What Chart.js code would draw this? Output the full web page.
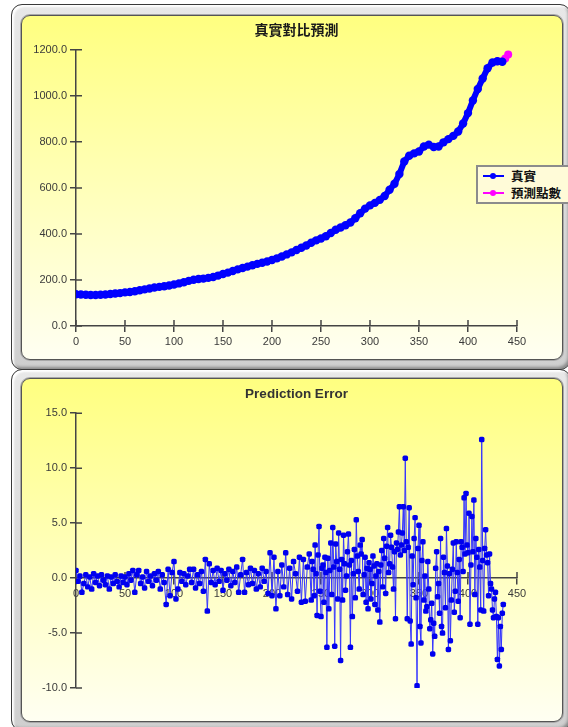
<!DOCTYPE html>
<html>
<head>
<meta charset="utf-8">
<script src="https://cdn.jsdelivr.net/npm/chart.js@4"></script>
<style>
  html, body { margin: 0; padding: 0; background: #fff; }
  body { width: 568px; height: 727px; position: relative; overflow: hidden; }
  .frame {
    position: absolute; box-sizing: border-box;
    border: 1px solid #3a3a3a; border-radius: 11px;
    background: linear-gradient(#e8e8e8, #cfcfcf);
    box-shadow: inset 2px 2px 2px #ffffff, inset -2px -2px 3px #8a8a8a;
  }
  .panel {
    position: absolute; box-sizing: border-box; overflow: hidden;
    border: 1px solid #555; border-radius: 9px;
    background: linear-gradient(#ffff80, #fffff2);
    box-shadow: 0 0 0 1px #a8a8a8;
  }
  .chartbox { position: absolute; left: 0; }
  #legend {
    position: absolute; left: 476px; top: 165px; width: 100px; height: 39px;
    box-sizing: border-box; border: 2px solid #8c8c8c; background: #fffbd8;
    font: bold 12.5px "Noto Sans CJK TC", sans-serif; color: #111;
  }
  #legend div { position: relative; height: 17px; line-height: 17px; padding-left: 33px; }
  #legend span.ln { position: absolute; left: 5px; top: 8px; width: 21px; height: 2px; }
  #legend span.dot { position: absolute; left: 12px; top: 6px; width: 6px; height: 6px; border-radius: 3px; }
</style>
</head>
<body>
  <div class="frame" style="left:11px; top:4px; width:560px; height:366px;"></div>
  <div class="panel" style="left:21px; top:15px; width:542px; height:345px;"></div>
  <div class="frame" style="left:11px; top:369px; width:560px; height:362px;"></div>
  <div class="panel" style="left:21px; top:378px; width:542px; height:344px;"></div>

  <div class="chartbox" style="top:0;"><canvas id="topChart" width="568" height="370"></canvas></div>
  <div class="chartbox" style="top:370px;"><canvas id="errChart" width="568" height="357"></canvas></div>

  <div id="legend">
    <div><span class="ln" style="background:#0000ff"></span><span class="dot" style="background:#0000ff"></span>真實</div>
    <div><span class="ln" style="background:#ff00ff"></span><span class="dot" style="background:#ff00ff"></span>預測點數</div>
  </div>

<script>
// actual values, one every 5 samples starting at sample 0
const actualStep = 5;
const actualValues = [
  138, 137, 136, 135, 135, 136, 137, 139, 141, 143,
  146, 148, 151, 155, 159, 163, 167, 170, 173, 176,
  180, 185, 190, 196, 201, 204, 206, 209, 213, 219,
  226, 232, 239, 246, 252, 258, 264, 270, 275, 280,
  287, 294, 302, 311, 320, 330, 340, 350, 362, 372,
  380, 390, 404, 418, 428, 438, 450, 468, 490, 510,
  524, 535, 548, 565, 592, 618, 660, 715, 740, 750,
  758, 780, 788, 778, 780, 798, 812, 826, 845, 880,
  925, 980, 1030, 1075, 1120, 1145, 1150, 1148
];

// predicted tail that sticks out past the actual series
const predSamples = [430, 435, 438, 441];
const predValues = [1150, 1150, 1162, 1180];

// prediction error, samples 0..238, one every 2
const errEarlyStep = 2;
const errEarly = [
  0.7, -0.3, 0.2, -1.3, -0.5, 0.3, -0.8, 0.1, -1.0, 0.4,
  -0.4, 0.2, -0.7, 0.3, -0.2, -0.6, 0.2, -1.0, 0.1, -0.5,
  0.3, -0.3, -0.8, 0.2, -0.4, 0.1, -0.6, 0.4, -0.2, 0.7,
  -1.3, 0.3, 0.7, -0.5, 0.1, -0.9, 0.6, -0.3, 0.2, -0.7,
  0.4, -0.2, 0.6, -1.0, 0.3, -0.4, -2.4, 0.8, -1.6, 0.5,
  1.5, -1.9, -1.0, 0.5, -0.3, 0.4, -0.6, 0.2, 0.8, -0.4,
  0.8, -0.9, 0.3, -0.5, 0.6, -1.2, 1.7, -3.0, 1.3, -0.4,
  0.7, -0.6, 0.9, -0.3, 0.7, -1.1, 0.4, -0.2, 0.8, -0.7,
  0.6, -0.4, 1.0, -1.3, 0.3, 1.7, -1.3, 0.5, -0.6, 0.9,
  -0.5, 0.7, -1.0, 0.4, -0.8, 0.9, -0.3, 0.6, -1.4, 2.3,
  -1.6, 1.9, -2.8, 0.6, -1.6, 1.2, -0.8, 2.3, -1.5, 0.9,
  -1.9, 1.5, 0.4, -1.2, 1.9, -2.2, 1.7, -2.1, 1.0, 2.2
];

// prediction error, samples 240..436, every sample
const errLateStart = 240;
const errLate = [
  -2.0, 1.5, 0.8, -1.6, 3.0, 0.4, -3.4, 2.1, 4.7, -1.2,
  -3.5, 0.9, 1.2, -2.2, 1.9, 0.5, -6.3, 1.8, -2.8, 0.7,
  3.2, -1.5, 4.6, 1.0, -6.2, 3.1, 1.5, -1.9, 4.1, 0.8,
  -7.5, 1.7, -2.0, 3.9, 1.3, -1.1, 0.2, 2.4, 4.0, 1.2,
  -6.3, 1.6, -3.5, 0.4, 2.6, -1.8, 5.3, 2.0, 0.6, -1.0,
  3.0, 2.2, 3.5, -1.5, 0.3, 1.9, -2.2, 0.9, -2.8, 1.4,
  0.8, -1.9, -0.5, 2.0, 1.1, -2.4, 0.2, 1.3, -2.9, 0.6,
  -4.0, 1.2, 2.5, -0.8, 3.6, 1.8, -1.4, 2.9, 4.6, 0.5,
  1.3, 3.9, 2.8, 1.0, -1.0, 2.4, -3.7, 3.2, 2.6, 4.2,
  6.5, 2.1, 3.0, 4.1, 6.5, 2.5, 10.9, 3.3, -3.7, 2.8,
  6.4, -3.9, -6.0, 2.0, -0.6, 3.6, 5.5, -1.8, -9.8, 2.7,
  4.8, -4.4, -5.9, 1.6, 3.3, -2.0, 0.2, -3.0, -2.6, 1.5,
  -1.0, -4.6, -3.8, -2.3, -6.9, -4.1, -5.3, 0.9, 2.4, -1.7,
  -0.5, -3.2, 3.6, -4.4, -5.0, 1.9, 0.5, -2.7, 4.5, 1.1,
  -6.5, 0.4, -5.7, -2.0, 0.8, 3.2, -3.1, -1.2, 3.3, 0.5,
  -2.1, 1.7, -3.6, 3.3, 2.8, 0.6, 7.3, 2.2, 7.7, 3.0,
  2.3, 5.9, -4.2, 1.2, 5.6, 2.4, 7.1, -1.5, 3.6, 1.9,
  -4.2, 2.6, 1.0, -2.9, 12.6, 1.6, -3.0, 2.7, 4.4, 2.1,
  1.4, -1.6, 2.2, -0.5, -1.0, -2.9, -3.6, -1.9, -1.3, -3.5,
  -7.4, -3.6, -8.0, -4.4, -6.5, -3.2, -2.4
];

const topTitle = "真實對比預測";
const errTitle = "Prediction Error";
const actualLabel = "真實";
const predLabel = "預測點數";

const tickFont = { family: '"Liberation Sans", Arial, sans-serif', size: 11 };
const axisColor = "#444";

// tick marks that cross the axis line (Chart.js only draws the outer half)
const crossTicks = {
  id: "crossTicks",
  beforeDatasetsDraw(chart) {
    const ctx = chart.ctx;
    const xs = chart.scales.x, ys = chart.scales.y;
    const axisY = ys.getPixelForValue(Math.max(ys.min, 0));
    const axisX = xs.getPixelForValue(xs.min);
    ctx.save();
    ctx.strokeStyle = axisColor;
    ctx.lineWidth = 1.5;
    ctx.beginPath();
    xs.ticks.forEach(t => {
      const px = xs.getPixelForValue(t.value);
      ctx.moveTo(px, axisY);
      ctx.lineTo(px, axisY - 6);
    });
    ys.ticks.forEach(t => {
      const py = ys.getPixelForValue(t.value);
      ctx.moveTo(axisX, py);
      ctx.lineTo(axisX + 6, py);
    });
    ctx.stroke();
    ctx.restore();
  }
};

function axis(min, max, step, extra) {
  return Object.assign({
    type: "linear", min, max,
    ticks: { stepSize: step, font: tickFont, color: "#3a3a3a", padding: 3 },
    grid: { drawOnChartArea: false, tickLength: 6, color: axisColor, lineWidth: 1.5 },
    border: { color: axisColor, width: 1.5 }
  }, extra);
}

const actualPoints = actualValues.map((v, i) => ({ x: i * actualStep, y: v }));
const predPoints = predValues.map((v, i) => ({ x: predSamples[i], y: v }));
const errPoints = errEarly.map((v, i) => ({ x: i * errEarlyStep, y: v }))
  .concat(errLate.map((v, i) => ({ x: errLateStart + i, y: v })));

// TOP CHART
const topY = axis(0, 1200, 200, { afterFit: s => { s.width = 56; } });
topY.ticks.callback = v => v.toFixed(1);

new Chart(document.getElementById("topChart"), {
  type: "scatter",
  data: {
    datasets: [
      { label: predLabel, data: predPoints, showLine: true, order: 2,
        borderColor: "#ff00ff", backgroundColor: "#ff00ff", borderWidth: 4,
        pointRadius: 4, pointBorderWidth: 0 },
      { label: actualLabel, data: actualPoints, showLine: true, order: 1,
        borderColor: "#0000ff", backgroundColor: "#0000ff", borderWidth: 6,
        pointRadius: 4.2, pointBorderWidth: 0 }
    ]
  },
  options: {
    responsive: false,
    animation: false,
    layout: { padding: { left: 20, right: 51, top: 21, bottom: 24 } },
    plugins: {
      legend: { display: false },
      tooltip: { enabled: false },
      title: {
        display: true, text: topTitle, color: "#1a1a1a", fullSize: false,
        font: { family: '"Noto Sans CJK TC", sans-serif', size: 14, weight: "bold" },
        padding: { top: 0, bottom: 12 }
      }
    },
    scales: {
      x: axis(0, 450, 50, { afterFit: s => { s.height = 20; } }),
      y: topY
    }
  },
  plugins: [crossTicks]
});

// ERROR CHART
const errY = axis(-10, 15, 5, { afterFit: s => { s.width = 56; } });
errY.ticks.callback = v => v.toFixed(1);

new Chart(document.getElementById("errChart"), {
  type: "scatter",
  data: {
    datasets: [
      { label: errTitle, data: errPoints, showLine: true,
        borderColor: "#3535ff", backgroundColor: "#0000ee", borderWidth: 1,
        pointStyle: "rectRounded", pointRadius: 3.2, pointBorderWidth: 0 }
    ]
  },
  options: {
    responsive: false,
    animation: false,
    layout: { padding: { left: 20, right: 51, top: 16, bottom: 39 } },
    plugins: {
      legend: { display: false },
      tooltip: { enabled: false },
      title: {
        display: true, text: errTitle, color: "#333", fullSize: false,
        font: { family: '"Liberation Sans", Arial, sans-serif', size: 13.5, weight: "bold" },
        padding: { top: 0, bottom: 11 }
      }
    },
    scales: {
      x: axis(0, 450, 50, { position: { y: 0 } }),
      y: errY
    }
  },
  plugins: [crossTicks]
});
</script>
</body>
</html>
